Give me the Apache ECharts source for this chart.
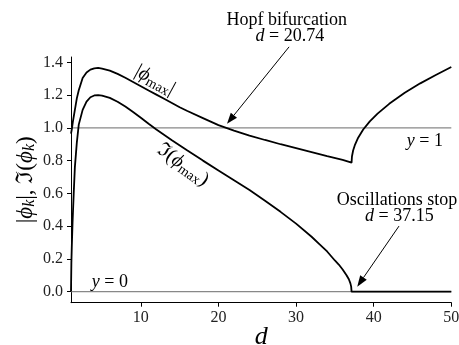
<!DOCTYPE html>
<html>
<head>
<meta charset="utf-8">
<script src="https://cdn.jsdelivr.net/npm/echarts@6/dist/echarts.min.js"></script>
<style>
  html, body { margin: 0; padding: 0; background: #fff; }
  #chart { width: 459px; height: 345px; }
</style>
</head>
<body>
<div id="chart"></div>
<script>
// |phi_max| versus d
var dAbs = [1.0, 1.1, 1.25, 1.5, 1.75, 2.0, 2.5, 3.0, 3.5, 4.0, 4.5, 5, 6, 7, 8, 9, 10, 11, 12, 13, 14, 15, 16, 18, 20, 22, 24, 26, 28, 30, 32, 34, 36, 37.15,
  37.2, 37.35, 37.6, 38.0, 38.65, 39.5, 40.5, 42, 44, 46, 48, 50];
var absPhi = [0.965, 0.99, 1.04, 1.11, 1.18, 1.23, 1.305, 1.338, 1.356, 1.364, 1.366, 1.362, 1.350, 1.330, 1.306, 1.280, 1.254, 1.228, 1.203, 1.178, 1.152, 1.126, 1.103, 1.060, 1.017, 0.983, 0.953, 0.926, 0.900, 0.876, 0.852, 0.828, 0.805, 0.788,
  0.825, 0.862, 0.898, 0.94, 0.99, 1.04, 1.087, 1.147, 1.214, 1.272, 1.323, 1.372];

// Im(phi_max) versus d
var dIm = [1.0, 1.05, 1.1, 1.2, 1.35, 1.5, 1.75, 2.0, 2.5, 3.0, 3.5, 4.0, 4.5, 5, 6, 7, 8, 9, 10, 11, 12, 14, 16, 18, 20, 22, 24, 26, 28, 30, 32, 33, 34, 35, 35.5, 36, 36.5, 36.8, 37.0, 37.1, 37.15, 50];
var imPhi = [0.0, 0.18, 0.27, 0.42, 0.60, 0.76, 0.91, 1.02, 1.11, 1.16, 1.187, 1.198, 1.20, 1.197, 1.183, 1.160, 1.130, 1.097, 1.062, 1.025, 0.990, 0.925, 0.862, 0.80, 0.74, 0.68, 0.62, 0.555, 0.487, 0.415, 0.335, 0.29, 0.245, 0.19, 0.165, 0.135, 0.10, 0.075, 0.05, 0.03, 0.0, 0.0];

// reference lines y = 1 and y = 0
var refX = [1, 50];
var refOne = [1, 1];
var refZero = [0, 0];

var xTicks = [10, 20, 30, 40, 50];
var yTicks = [0.0, 0.2, 0.4, 0.6, 0.8, 1.0, 1.2, 1.4];

function zip(xs, ys) {
  return xs.map(function (x, i) { return [x, ys[i]]; });
}

var serif = "'Liberation Serif', 'DejaVu Serif', serif";

var chart = echarts.init(document.getElementById('chart'));

var option = {
  animation: false,
  backgroundColor: '#fff',
  grid: { left: 71, right: 7.7, top: 57, bottom: 42.3, outerBoundsMode: 'none', containLabel: false },
  xAxis: {
    type: 'value',
    min: 1,
    max: 50,
    name: 'd',
    nameLocation: 'middle',
    nameGap: 21,
    nameMoveOverlap: false,
    nameTextStyle: { fontFamily: serif, fontStyle: 'italic', fontSize: 26, color: '#000' },
    axisLine: { onZero: false, lineStyle: { color: '#000', width: 1 } },
    axisTick: { customValues: xTicks, length: 4, lineStyle: { color: '#000' } },
    axisLabel: { customValues: xTicks, margin: 7, fontFamily: serif, fontSize: 16, color: '#222' },
    splitLine: { show: false }
  },
  yAxis: {
    type: 'value',
    min: -0.068,
    max: 1.433,
    name: '{t||}{i|ϕ}{s|k}{t||, ℑ(}{i|ϕ}{s|k}{t|)}',
    nameLocation: 'middle',
    nameGap: 33,
    nameRotate: 90,
    nameMoveOverlap: false,
    nameTextStyle: {
      rich: {
        t: { fontFamily: serif, fontSize: 23, color: '#000' },
        i: { fontFamily: serif, fontStyle: 'italic', fontSize: 23, color: '#000' },
        s: { fontFamily: serif, fontStyle: 'italic', fontSize: 16, color: '#000', padding: [8, 0, 0, 0] }
      }
    },
    axisLine: { show: true, onZero: false, lineStyle: { color: '#000', width: 1 } },
    axisTick: { show: true, customValues: yTicks, length: 4, lineStyle: { color: '#000' } },
    axisLabel: {
      customValues: yTicks, margin: 8, fontFamily: serif, fontSize: 16, color: '#222',
      formatter: function (v) { return v.toFixed(1); }
    },
    splitLine: { show: false }
  },
  series: [
    {
      type: 'line', data: zip(refX, refOne), symbol: 'none', z: 1,
      lineStyle: { color: '#888', width: 1.3 }
    },
    {
      type: 'line', data: zip(refX, refZero), symbol: 'none', z: 1,
      lineStyle: { color: '#888', width: 1.3 }
    },
    {
      name: 'Im', type: 'line', data: zip(dIm, imPhi), symbol: 'none', z: 3,
      lineStyle: { color: '#000', width: 1.8 }
    },
    {
      name: 'abs', type: 'line', data: zip(dAbs, absPhi), symbol: 'none', z: 3,
      lineStyle: { color: '#000', width: 1.8 }
    }
  ]
};
chart.setOption(option);

// annotations placed in data coordinates
function px(p) { return chart.convertToPixel({ gridIndex: 0 }, p); }

var rich = {
  r: { fontFamily: serif, fontSize: 18, color: '#000' },
  i: { fontFamily: serif, fontStyle: 'italic', fontSize: 18, color: '#000' },
  cr: { fontFamily: serif, fontSize: 20, color: '#000' },
  ci: { fontFamily: serif, fontStyle: 'italic', fontSize: 20, color: '#000' },
  sub: { fontFamily: serif, fontSize: 14, color: '#000', padding: [9, 0, 0, 0] }
};

function label(text, at, rot) {
  var p = px(at);
  return {
    type: 'text', x: p[0], y: p[1], rotation: rot || 0, z: 10,
    style: { text: text, rich: rich, align: 'center', verticalAlign: 'middle', fill: '#000' }
  };
}

function arrow(from, to) {
  var a = px(from), b = px(to);
  var dx = b[0] - a[0], dy = b[1] - a[1];
  var len = Math.sqrt(dx * dx + dy * dy);
  var ux = dx / len, uy = dy / len;
  var L = 11, w = 4;
  var bx = b[0] - ux * L, by = b[1] - uy * L;
  return [
    { type: 'line', z: 10, shape: { x1: a[0], y1: a[1], x2: bx, y2: by }, style: { stroke: '#000', lineWidth: 1 } },
    { type: 'polygon', z: 10, shape: { points: [[b[0], b[1]], [bx - uy * w, by + ux * w], [bx + uy * w, by - ux * w]] }, style: { fill: '#000' } }
  ];
}

var els = [
  label('{r|Hopf bifurcation}', [28.8, 1.659]),
  label('{i|d}{r| = 20.74}', [29.2, 1.561]),
  label('{r|Oscillations stop}', [43.0, 0.559]),
  label('{i|d}{r| = 37.15}', [43.3, 0.462]),
  label('{i|y}{r| = 1}', [46.6, 0.919]),
  label('{i|y}{r| = 0}', [6.0, 0.058]),
  label('{cr||}{ci|ϕ}{sub|max}{cr||}', [11.8, 1.29], -0.5),
  label('{cr|ℑ(}{ci|ϕ}{sub|max}{cr|)}', [15.4, 0.773], -0.62)
].concat(arrow([29.1, 1.495], [21.1, 1.025]))
 .concat(arrow([43.26, 0.40], [37.88, 0.03]));

chart.setOption({ graphic: els });
</script>
</body>
</html>
